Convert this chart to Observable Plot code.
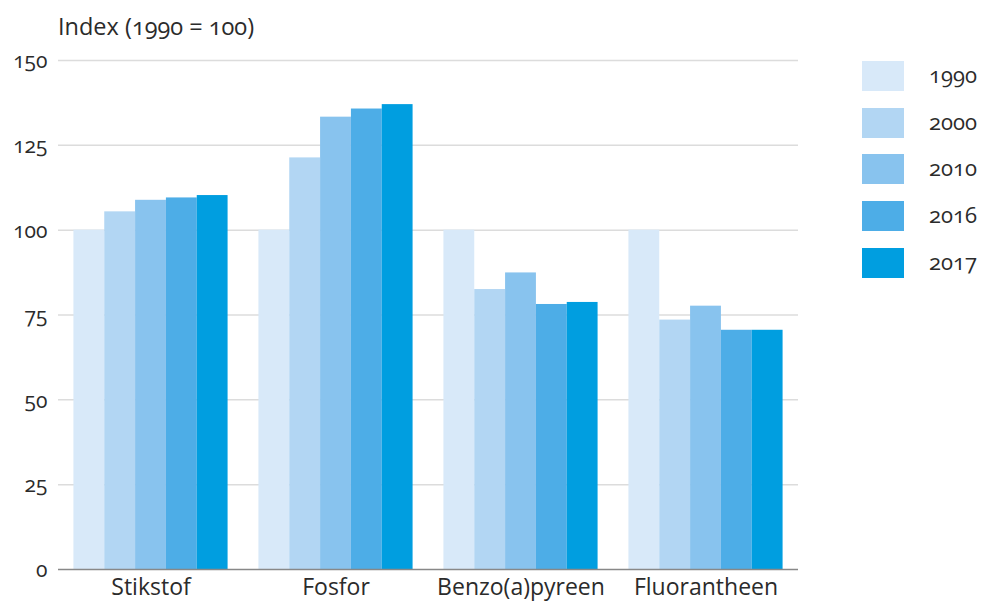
<!DOCTYPE html>
<html>
<head>
<meta charset="utf-8">
<script src="https://cdn.jsdelivr.net/npm/d3@7"></script>
<script src="https://cdn.jsdelivr.net/npm/@observablehq/plot@0.6"></script>
<style>
  html, body { margin: 0; padding: 0; background: #fff; }
  #wrap { position: relative; width: 985px; height: 603px; font-family: "Open Sans", Lato, sans-serif; color: #2b2b2b; font-feature-settings: "onum"; }
  #title { height: 40px; position: relative; }
  #title span { position: absolute; left: 58px; top: 11px; font-size: 23.5px; line-height: 31px; white-space: nowrap; }
  #legend { position: absolute; left: 862px; top: 61px; }
  .item { position: relative; height: 30px; margin-bottom: 16.7px; }
  .sw { position: absolute; left: 0; top: 0; width: 42px; height: 30px; }
  .lab { position: absolute; left: 67px; top: -2px; font-size: 22px; line-height: 30px; }
  svg text { font-feature-settings: "onum"; }
</style>
</head>
<body>
<div id="wrap">
  <div id="title"><span>Index (1990 = 100)</span></div>
  <div id="chart"></div>
  <div id="legend"></div>
</div>
<script>
const categories = ["Stikstof", "Fosfor", "Benzo(a)pyreen", "Fluorantheen"];
const years = ["1990", "2000", "2010", "2016", "2017"];
const colors = ["#d8e9f9", "#b2d6f3", "#88c3ee", "#4dade7", "#009ee0"];
const v1990 = [100, 100, 100, 100];
const v2000 = [105.4, 121.3, 82.5, 73.5];
const v2010 = [108.8, 133.3, 87.4, 77.6];
const v2016 = [109.5, 135.7, 78.1, 70.5];
const v2017 = [110.2, 137.0, 78.7, 70.5];
const yTicks = [0, 25, 50, 75, 100, 125, 150];

const series = [v1990, v2000, v2010, v2016, v2017];
const slot = years.length + 1; // 5 bars + 1 gap per group
const data = [];
categories.forEach((c, g) => {
  years.forEach((y, i) => {
    data.push({category: c, year: y, value: series[i][g], x1: g * slot + i, x2: g * slot + i + 1});
  });
});
const centers = categories.map((c, g) => g * slot + years.length / 2);

const plot = Plot.plot({
  width: 985,
  height: 563,
  marginLeft: 58,
  marginRight: 187,
  marginTop: 20,
  marginBottom: 34,
  style: {fontFamily: "'Open Sans', Lato, sans-serif", color: "#2b2b2b", background: "#fff"},
  x: {domain: [-0.5, categories.length * slot - 0.5], axis: null},
  y: {domain: [0, 150], axis: null},
  color: {domain: years, range: colors},
  marks: [
    Plot.gridY(yTicks.filter(d => d > 0), {stroke: "#dcdcdc", strokeOpacity: 1, strokeWidth: 1.5}),
    Plot.rect(data, {x1: "x1", x2: "x2", y1: 0, y2: "value", fill: "year"}),
    Plot.ruleY([0], {stroke: "#888", strokeWidth: 1.5}),
    Plot.axisY({ticks: yTicks, tickSize: 0, tickPadding: 11, fontSize: 21, dy: 1, label: null}),
    Plot.axisX({ticks: centers, tickFormat: d => categories[Math.round((d - years.length / 2) / slot)], tickSize: 0, tickPadding: 9, fontSize: 23, label: null})
  ]
});
document.getElementById("chart").appendChild(plot);

const legend = document.getElementById("legend");
years.forEach((y, i) => {
  const it = document.createElement("div");
  it.className = "item";
  it.innerHTML = `<div class="sw" style="background:${colors[i]}"></div><div class="lab">${y}</div>`;
  legend.appendChild(it);
});
</script>
</body>
</html>
